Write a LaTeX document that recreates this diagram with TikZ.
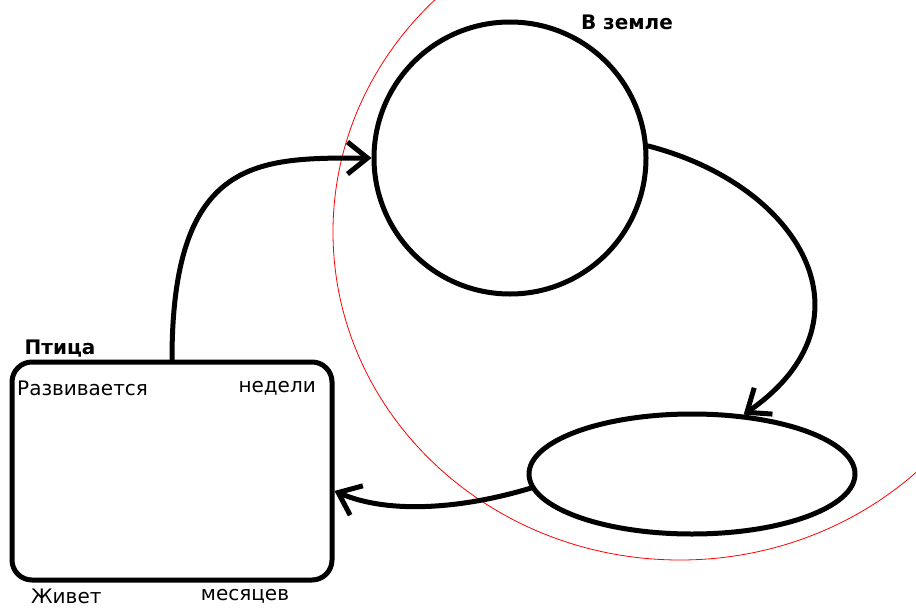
\documentclass[tikz,border=0pt]{standalone}
\usepackage{fontspec}
\setmainfont{DejaVu Sans}
\usetikzlibrary{arrows.meta,shapes.geometric}
\tikzset{
  thick line/.style={line width=5pt, line cap=round, line join=round},
  lifearrow/.style={thick line, -{Straight Barb[length=20pt,width=32pt,line width=5pt]}},
  lbl/.style={inner sep=0pt, font=\fontsize{20}{24}\selectfont},
  hdr/.style={lbl, font=\fontsize{20}{24}\selectfont\bfseries}
}
\begin{document}
\begin{tikzpicture}[x=1pt,y=-1pt]
\useasboundingbox (0,0) rectangle (916,608);
\clip (0,0) rectangle (916,608);
\draw[red, line width=0.8pt] (680,232) ellipse [x radius=347pt, y radius=328pt];
\node[thick line, draw, circle, inner sep=0pt, minimum width=272pt] (bigc) at (510,158) {};
\node[thick line, draw, ellipse, inner sep=0pt, minimum width=326pt, minimum height=120pt] (ell) at (692,474) {};
\node[thick line, draw, rounded corners=20pt, inner sep=0pt, minimum width=320pt, minimum height=218pt] (box) at (172,471) {};
\node[hdr] (bird) at (60,349) {Птица};
\node[hdr] (ground) at (627,22) {В земле};
\node[lbl, anchor=west] (grows) at (17,388) {Развивается};
\node[lbl, anchor=east] (weeks) at (316,388) {недели};
\node[lbl, anchor=west] (lives) at (31,596) {Живет};
\node[lbl] (months) at (245,596) {месяцев};
\draw[lifearrow] (box.north) .. controls (172,155) and (260,158) .. (bigc.west);
\draw[lifearrow] (bigc.5) .. controls (800,185) and (880,320) .. (ell.49);
\draw[lifearrow] (ell.185) .. controls (465,508) and (390,515) .. (box.-7);
\end{tikzpicture}
\end{document}
